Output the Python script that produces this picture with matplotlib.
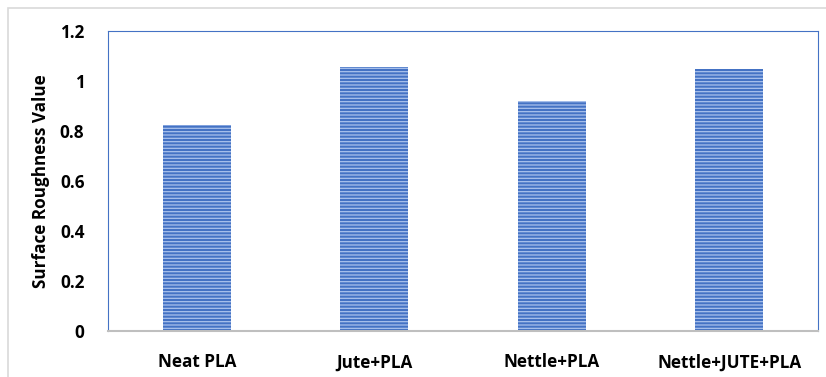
import matplotlib
matplotlib.use("Agg")
import matplotlib.pyplot as plt
from matplotlib.patches import Rectangle

categories = ["Neat PLA", "Jute+PLA", "Nettle+PLA", "Nettle+JUTE+PLA"]
roughness = [0.825, 1.055, 0.92, 1.048]
yticks = [0, 0.2, 0.4, 0.6, 0.8, 1, 1.2]

plt.rcParams['font.family'] = ['Open Sans', 'DejaVu Sans']
plt.rcParams['hatch.linewidth'] = 0.9

fig = plt.figure(figsize=(8.26, 3.77), dpi=100)
# outer chart frame (only top/left visible in the reference)
fig.patches.append(Rectangle((8 / 826, -0.1), 1.2, (377 - 8) / 377 + 0.1,
                             transform=fig.transFigure, fill=False,
                             edgecolor='#d9d9d9', linewidth=1.2))

ax = fig.add_axes([108 / 826, 46 / 377, 710 / 826, 300 / 377])
x = range(len(categories))
ax.bar(x, roughness, width=0.385, color='#4472c4', edgecolor='#a9c1ec',
       linewidth=0, hatch='-----')

ax.set_xlim(-0.5, len(categories) - 0.5)
ax.set_ylim(0, 1.2)
ax.set_yticks(yticks)
ax.set_yticklabels(['0', '0.2', '0.4', '0.6', '0.8', '1', '1.2'])
ax.set_xticks(list(x))
ax.set_xticklabels(categories)
ax.tick_params(axis='both', length=0, labelsize=12.3)
ax.tick_params(axis='x', pad=16)
ax.tick_params(axis='y', pad=17)
for lab in ax.get_xticklabels() + ax.get_yticklabels():
    lab.set_fontweight('bold')

for s in ['top', 'left', 'right']:
    ax.spines[s].set_color('#4472c4')
    ax.spines[s].set_linewidth(0.8)
ax.spines['bottom'].set_color('#bfbfbf')
ax.spines['bottom'].set_linewidth(1.5)

ax.set_ylabel('Surface Roughness Value', fontsize=12.3, fontweight='bold',
              labelpad=7)

fig.savefig('out.png', dpi=100)
